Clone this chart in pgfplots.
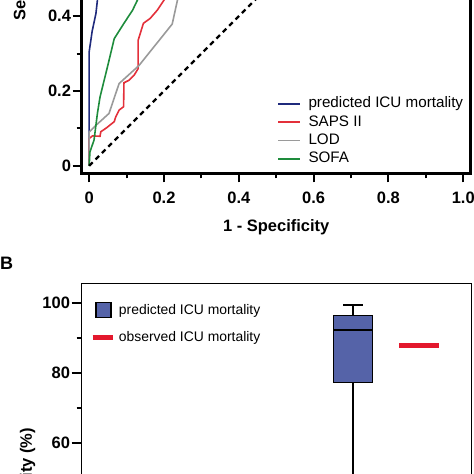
\documentclass[border=0pt]{standalone}
\usepackage{pgfplots}
\pgfplotsset{compat=1.18}
\usepackage{fontspec}
\setmainfont{Liberation Sans}
\definecolor{cblue}{HTML}{1F2A7C}
\definecolor{cred}{HTML}{E3303A}
\definecolor{cgray}{HTML}{9A9A9A}
\definecolor{cgreen}{HTML}{1E8C3C}
\definecolor{boxblue}{HTML}{5563A8}
\definecolor{obsred}{HTML}{E3182D}
\begin{document}
\begin{tikzpicture}
\useasboundingbox (0pt,0pt) rectangle (474pt,474pt);
\clip (0pt,0pt) rectangle (474pt,474pt);
% ---------------- Panel A (ROC) ----------------
\begin{axis}[
  at={(81.7pt,300.7pt)}, anchor=south west,
  scale only axis, width=389pt, height=389pt,
  xmin=-0.02, xmax=1.02, ymin=-0.02, ymax=1.02,
  axis line style={line width=2.5pt},
  xtick={0,0.2,0.4,0.6,0.8,1.0}, xticklabels={0,0.2,0.4,0.6,0.8,1.0},
  ytick={0,0.2,0.4,0.6,0.8,1.0}, yticklabels={0,0.2,0.4,0.6,0.8,1.0},
  minor x tick num=1, minor y tick num=1,
  xtick pos=left, ytick pos=left, tick align=outside,
  major tick length=9pt, minor tick length=5pt,
  major tick style={line width=2pt, black}, minor tick style={line width=2pt, black},
  /pgf/number format/assume math mode=true,
  tick label style={font=\fontsize{16.5}{18}\selectfont\bfseries},
  xticklabel style={yshift=-6pt},
  yticklabel style={inner sep=1.5pt},
  every axis x label/.style={at={(axis description cs:0.5,-0.139)}, anchor=center},
  every axis y label/.style={at={(axis description cs:-0.156,0.5)}, rotate=90, anchor=center},
  label style={font=\fontsize{16.5}{18}\selectfont\bfseries},
  xlabel={1 - Specificity}, ylabel={Sensitivity},
  legend cell align=left,
  legend image code/.code={\draw[#1] (0pt,0pt) -- (22pt,0pt);},
  legend style={draw=none, fill=none, at={(axis description cs:0.99,0.012)}, anchor=south east,
    font=\fontsize{15.2}{17}\selectfont, row sep=3.4pt, column sep=7pt,
    nodes={inner sep=0.5pt, text height=11pt, text depth=3pt}},
]
\addplot[cblue, line width=1.6pt] coordinates {
 (0,0) (0,0.09) (0,0.20) (0,0.305) (0.008,0.36) (0.018,0.407) (0.022,0.443) (0.03,0.55) (0.05,0.7) (0.08,0.82) (0.15,0.9) (0.3,0.96) (0.6,0.99) (1,1)};
\addlegendentry{predicted ICU mortality}
\addplot[cred, line width=1.6pt] coordinates {
 (0,0) (0,0.073) (0.009,0.08) (0.029,0.079) (0.031,0.091) (0.047,0.102) (0.067,0.118) (0.071,0.131) (0.08,0.149) (0.092,0.158) (0.093,0.222) (0.107,0.229) (0.12,0.242) (0.131,0.26) (0.131,0.336) (0.145,0.381) (0.163,0.394) (0.182,0.416) (0.2,0.443) (0.24,0.55) (0.32,0.68) (0.45,0.8) (0.65,0.92) (1,1)};
\addlegendentry{SAPS II}
\addplot[cgray, line width=1.6pt] coordinates {
 (0,0) (0,0.07) (0,0.09) (0.02,0.11) (0.053,0.14) (0.08,0.22) (0.133,0.268) (0.222,0.379) (0.236,0.443) (0.28,0.56) (0.36,0.7) (0.5,0.82) (0.7,0.93) (1,1)};
\addlegendentry{LOD}
\addplot[cgreen, line width=1.6pt] coordinates {
 (0,0) (0.002,0.037) (0.013,0.069) (0.022,0.14) (0.029,0.184) (0.049,0.265) (0.067,0.34) (0.093,0.381) (0.116,0.416) (0.129,0.443) (0.16,0.56) (0.22,0.7) (0.35,0.84) (0.6,0.95) (1,1)};
\addlegendentry{SOFA}
\addplot[black, line width=2.2pt, dash pattern=on 5pt off 4pt, forget plot] coordinates {(0,0) (1,1)};
\end{axis}
% ---------------- Panel B (box plot) ----------------
\node[font=\fontsize{18}{20}\selectfont\bfseries, anchor=center] at (6.5pt,210.5pt) {B};
\begin{axis}[
  at={(81.7pt,190.7pt)}, anchor=north west,
  scale only axis, width=390pt, height=388.5pt,
  xmin=0, xmax=390, ymin=-5.5, ymax=105.5,
  axis line style={line width=1.3pt},
  xtick=\empty,
  ytick={0,20,40,60,80,100},
  minor y tick num=1,
  ytick pos=left, tick align=outside,
  major tick length=10pt, minor tick length=5pt,
  major tick style={line width=2pt, black}, minor tick style={line width=2pt, black},
  /pgf/number format/assume math mode=true,
  tick label style={font=\fontsize{16.5}{18}\selectfont\bfseries},
  yticklabel style={inner sep=1.5pt},
  every axis y label/.style={at={(axis description cs:-0.1385,0.5)}, rotate=90, anchor=center},
  label style={font=\fontsize{16.5}{18}\selectfont\bfseries},
  ylabel={Mortality (\%)},
  legend cell align=left,
  legend style={draw=none, fill=none, at={(axis description cs:0.014,0.958)}, anchor=north west,
    font=\fontsize{13.9}{16}\selectfont, row sep=13pt, column sep=3pt,
    nodes={inner sep=0.5pt}},
]
\addlegendimage{legend image code/.code={\draw[fill=boxblue, draw=black, line width=1.2pt] (3.3pt,-7.5pt) rectangle (18.3pt,7.5pt);}}
\addlegendentry{predicted ICU mortality}
\addlegendimage{legend image code/.code={\draw[obsred, line width=4.5pt] (0pt,0pt) -- (20.6pt,0pt);}}
\addlegendentry{observed ICU mortality}
% whiskers (predicted ICU mortality)
\addplot[black, line width=1.3pt] coordinates {(271.3,20) (271.3,77.1)};
\addplot[black, line width=1.3pt] coordinates {(271.3,96.2) (271.3,99.3)};
\addplot[black, line width=1.3pt] coordinates {(261.45,99.3) (281.15,99.3)};
% box: lower quartile 77.1, upper quartile 96.2
\addplot[draw=black, fill=boxblue, line width=1.3pt] coordinates {(251.6,77.1) (291.0,77.1) (291.0,96.2) (251.6,96.2) (251.6,77.1)};
% median 92.1
\addplot[black, line width=2.6pt] coordinates {(251.6,92.1) (291.0,92.1)};
% observed ICU mortality 87.6
\addplot[obsred, line width=5pt] coordinates {(317.6,87.6) (357.0,87.6)};
\end{axis}
\end{tikzpicture}
\end{document}
